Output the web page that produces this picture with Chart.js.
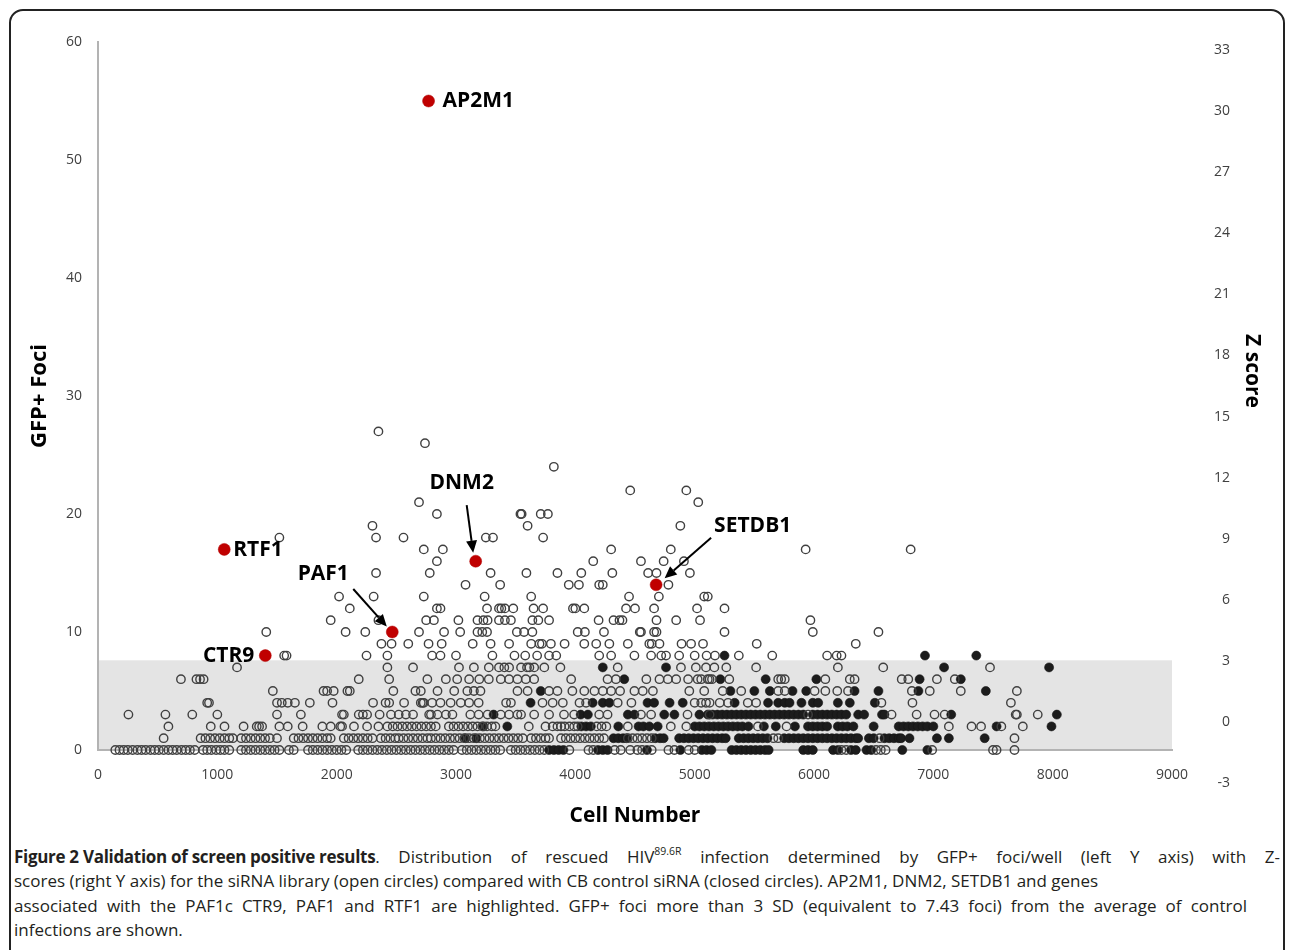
<!DOCTYPE html>
<html>
<head>
<meta charset="utf-8">
<script src="https://cdn.jsdelivr.net/npm/chart.js@4.4.1/dist/chart.umd.min.js"></script>
<style>
  html, body { margin:0; padding:0; background:#fff; }
  body { width:1290px; height:950px; position:relative; overflow:hidden; font-family:'Open Sans', sans-serif; }
  #frame { position:absolute; left:9px; top:9px; width:1276px; height:1000px; border:2px solid #222; border-radius:14px; box-sizing:border-box; }
  #chartWrap { position:absolute; left:0; top:0; width:1290px; height:840px; }
  #caption { position:absolute; left:14px; top:845px; font-size:17px; line-height:24.4px; color:#231f20; }
  #caption .ln { white-space:nowrap; }
  #caption .just { text-align:justify; text-align-last:justify; white-space:normal; }
  #caption b { font-weight:700; letter-spacing:-0.3px; display:inline-block; }
  #caption sup { font-size:10.5px; line-height:0; position:relative; top:-1px; }
</style>
</head>
<body>
<div id="frame"></div>
<div id="chartWrap"><canvas id="c" width="1290" height="840"></canvas></div>
<div id="caption">
  <div class="ln just" style="width:1266px"><b>Figure 2 Validation of screen positive results</b>. Distribution of rescued HIV<sup>89.6R</sup> infection determined by GFP+ foci/well (left Y axis) with Z-</div>
  <div class="ln">scores (right Y axis) for the siRNA library (open circles) compared with CB control siRNA (closed circles). AP2M1, DNM2, SETDB1 and genes</div>
  <div class="ln just" style="width:1233px">associated with the PAF1c CTR9, PAF1 and RTF1 are highlighted. GFP+ foci more than 3 SD (equivalent to 7.43 foci) from the average of control</div>
  <div class="ln">infections are shown.</div>
</div>
<script>
// ---------- axis ticks ----------
const cellTicks = [0,1000,2000,3000,4000,5000,6000,7000,8000,9000];
const fociTicks = [0,10,20,30,40,50,60];
const zTicks = [-3,0,3,6,9,12,15,18,21,24,27,30,33];
const bandFoci = 7.6;   // shaded region: 0 .. ~3 SD of controls

// ---------- siRNA library (open circles), by GFP+ foci level ----------
const libFoci0 = [145,180,215,250,290,330,365,400,440,475,510,550,590,625,660,700,735,770,810,880,915,950,990,1025,1060,1100,1200,1240,1280,1320,1360,1400,1440,1480,1520,1600,1640,1760,1800,1840,1880,1920,1960,2000,2040,2080,2180,2220,2260,2300,2340,2380,2420,2460,2500,2540,2580,2620,2660,2700,2740,2780,2820,2860,2900,2940,2980,3050,3090,3130,3170,3210,3250,3290,3330,3370,3460,3500,3540,3580,3620,3660,3700,3740,3950,4110,4150,4330,4380,4460,4520,4560,4640,4780,4830,4950,5000,6230,6270,6520,6560,6600,6990,7500,7530,7680];
const libFoci1 = [550,860,900,940,980,1020,1060,1100,1130,1200,1240,1280,1320,1360,1400,1440,1500,1640,1680,1720,1760,1800,1840,1880,1920,1950,2060,2100,2140,2180,2220,2260,2300,2370,2410,2450,2490,2520,2560,2600,2640,2680,2720,2760,2790,2830,2870,2910,2950,2990,3030,3070,3110,3150,3200,3240,3280,3320,3360,3400,3440,3480,3520,3560,3630,3670,3710,3750,3780,3880,3920,3960,4000,4040,4080,4120,4160,4200,4240,4440,4480,4520,4560,4600,4640,5660,5700,6550,7680];
const libFoci2 = [590,945,1060,1220,1330,1350,1375,1520,1590,1715,1880,1950,2030,2045,2145,2255,2350,2425,2470,2510,2550,2590,2630,2670,2710,2750,2790,2830,2940,2980,3020,3060,3100,3140,3180,3220,3260,3300,3330,3610,3750,3810,3850,3880,3910,3950,3990,4020,4180,4220,4260,4440,4800,4930,5530,5770,7130,7320,7400,7570,7750];
const libFoci3 = [255,565,790,1000,1500,1700,2045,2060,2185,2220,2255,2360,2455,2520,2580,2640,2775,2790,2845,2915,2970,3120,3190,3265,3375,3445,3515,3545,3655,3780,3905,3990,4200,4270,4550,4635,4940,5125,5950,6650,6860,7010,7095,7690,7700,7875];
const libFoci4 = [915,930,1500,1540,1590,1650,1775,1965,2305,2410,2440,2565,2705,2720,2730,2800,2870,2955,3040,3110,3190,3420,3460,3725,3810,3895,4035,4090,4355,4470,5000,5055,5095,5125,5210,5280,5445,5515,6565,6825,7650];
const libFoci5 = [1465,1890,1920,1975,2090,2110,2475,2660,2705,2845,2985,3095,3150,3205,3515,3600,3780,3850,3975,4075,4160,4230,4300,4375,4495,4565,4650,4955,5080,5235,5390,5700,5755,6005,6095,6195,6285,6820,6970,7230,7700];
const libFoci6 = [695,825,855,885,2185,2440,2760,2915,3010,3110,3195,3275,3375,3445,3515,3585,3655,3965,4270,4340,4595,4705,4775,4845,4945,5025,5055,5110,5125,5145,5290,5700,5725,5755,6095,6300,6340,6735,6790,7030,7180];
const libFoci7 = [1165,2425,2640,3025,3150,3275,3360,3405,3445,3545,3595,3615,3655,3740,3875,4355,4885,5010,5095,5165,5265,5515,6200,6580,7475];
const libFoci8 = [1560,1580,2250,2425,2800,2870,3000,3305,3490,3580,3680,3780,3840,4200,4300,4495,4635,4720,4760,4870,5000,5100,5170,5370,5650,6110,6190,6230];
const libFoci9 = [2375,2460,2600,2770,2880,3140,3290,3445,3630,3700,3720,3795,3910,4075,4175,4285,4440,4620,4640,4705,4890,4970,5070,5520,6350];
const libFoci10 = [1410,2075,2240,2690,2900,3035,3180,3220,3260,3510,3570,3640,4020,4080,4240,4540,4550,4660,4680,5250,5990,6540];
const libFoci11 = [1950,2350,2750,2815,3020,3180,3230,3265,3360,3410,3460,3640,3690,3780,4195,4320,4370,4395,4680,4845,5045,5970];
const libFoci12 = [2110,2840,2870,3260,3360,3380,3410,3480,3650,3730,3980,4000,4075,4425,4500,4660,5020,5250];
// sparse library hits above 12 foci: [cell number, GFP+ foci]
const libSparse = [[2020,13],[2310,13],[2730,13],[3240,13],[3630,13],[4450,13],[4700,13],[5080,13],[5110,13],
  [3080,14],[3370,14],[3945,14],[4030,14],[4200,14],[4230,14],[4780,14],
  [2330,15],[2780,15],[3290,15],[3590,15],[3850,15],[4050,15],[4310,15],[4610,15],[4680,15],[4960,15],
  [2840,16],[4150,16],[4550,16],[4740,16],[4910,16],
  [2730,17],[2890,17],[4300,17],[4800,17],[5930,17],[6810,17],
  [1520,18],[2330,18],[2560,18],[3250,18],[3310,18],[3730,18],
  [2300,19],[3600,19],[4880,19],
  [2840,20],[3540,20],[3550,20],[3710,20],[3770,20],
  [2690,21],[5030,21],[4460,22],[4930,22],[3820,24],[2740,26],[2350,27]];

// ---------- CB control siRNA (closed circles), by GFP+ foci level ----------
const ctrlFoci0 = [3780,3820,3860,3900,4190,4230,4270,4600,4880,5060,5100,5140,5310,5350,5390,5430,5470,5510,5550,5590,5620,5910,5950,5990,6160,6200,6310,6350,6440,6480,6740,6950];
const ctrlFoci1 = [3080,3170,4320,4360,4400,4430,4670,4710,4740,4870,4910,4950,4990,5030,5070,5110,5150,5190,5230,5260,5370,5410,5450,5490,5530,5570,5610,5750,5790,5830,5870,5910,5950,5990,6030,6070,6110,6150,6190,6230,6270,6310,6350,6370,6460,6500,6590,6630,6670,6710,6730,6800,7030,7130,7430];
const ctrlFoci2 = [3230,3430,4050,4090,4130,4360,4530,4570,4620,4690,5000,5040,5080,5120,5160,5200,5240,5280,5320,5360,5400,5450,5580,5680,5840,5950,5990,6030,6070,6110,6200,6240,6280,6330,6500,6710,6750,6790,6830,6870,6910,6950,7000,7530,7990];
const ctrlFoci3 = [3315,4045,4105,4440,4495,4745,4830,5040,5110,5150,5190,5230,5270,5310,5350,5390,5430,5470,5510,5550,5590,5630,5670,5710,5750,5790,5830,5870,5910,5990,6030,6070,6110,6150,6190,6230,6270,6370,6420,6570,6590,7150,8035];
const ctrlFoci4 = [3625,4145,4230,4285,4605,4660,4790,4900,5335,5615,5700,5755,5795,5895,5990,6035,6200,6300,6510];
const ctrlFoci5 = [3710,5300,5500,5630,5820,5935,6340,6540,6875,7440];
const ctrlFoci6 = [4410,5215,5595,6020,6885,7230];
const ctrlFoci7 = [4230,4760,7090,7970];
const ctrlFoci8 = [5250,6930,7360];

// ---------- highlighted genes ----------
const hiNames = ['AP2M1','DNM2','SETDB1','PAF1','RTF1','CTR9'];
const hiCells = [2770,3165,4677,2466,1058,1402];
const hiFoci  = [55,16,14,10,17,8];

// ---------- build points ----------
function fromRows(rows){ const p=[]; rows.forEach((arr,f)=>arr.forEach(c=>p.push({x:c,y:f}))); return p; }
const libPts = fromRows([libFoci0,libFoci1,libFoci2,libFoci3,libFoci4,libFoci5,libFoci6,libFoci7,libFoci8,libFoci9,libFoci10,libFoci11,libFoci12])
  .concat(libSparse.map(d=>({x:d[0],y:d[1]})));
const ctrlPts = fromRows([ctrlFoci0,ctrlFoci1,ctrlFoci2,ctrlFoci3,ctrlFoci4,ctrlFoci5,ctrlFoci6,ctrlFoci7,ctrlFoci8]);
const hiPts = hiCells.map((c,i)=>({x:c,y:hiFoci[i]}));

// label / arrow layout (pixel offsets relative to the highlighted point)
const hiLayout = [
  {dx:14, dy:0, align:'left'},
  {dx:-14, dy:-78, align:'center', arrow:[-9,-56,-2.5,-8.5]},
  {dx:58, dy:-59, align:'left', arrow:[55,-47,8.5,-6.5]},
  {dx:-69, dy:-58, align:'center', arrow:[-39,-43,-5.5,-5.5]},
  {dx:9, dy:1, align:'left'},
  {dx:-11, dy:0, align:'right'}
];

const FONT = "'Open Sans', sans-serif";
Chart.defaults.font.family = FONT;

const bandPlugin = {
  id:'band',
  beforeDraw(chart){
    const {ctx, scales:{x,y}} = chart;
    const x0=x.getPixelForValue(0), x1=x.getPixelForValue(9000);
    const yt=y.getPixelForValue(bandFoci), yb=y.getPixelForValue(0);
    ctx.save(); ctx.fillStyle='#e4e4e4'; ctx.fillRect(x0,yt,x1-x0,yb-yt); ctx.restore();
  }
};

const overlayPlugin = {
  id:'overlay',
  afterDatasetsDraw(chart){
    const {ctx, scales:{x,y,y2}, chartArea} = chart;
    ctx.save();
    ctx.font = "bold 21px " + FONT;
    ctx.fillStyle = '#000'; ctx.strokeStyle='#000';
    ctx.textBaseline = 'middle';
    hiPts.forEach((p,i)=>{
      const px=x.getPixelForValue(p.x), py=y.getPixelForValue(p.y);
      const L=hiLayout[i];
      ctx.textAlign=L.align;
      ctx.fillText(hiNames[i], px+L.dx, py+L.dy);
      if(L.arrow){
        const sx=px+L.arrow[0], sy=py+L.arrow[1], ex=px+L.arrow[2], ey=py+L.arrow[3];
        const ang=Math.atan2(ey-sy, ex-sx), len=12, hw=5.5;
        const bx=ex-len*Math.cos(ang), by=ey-len*Math.sin(ang);
        ctx.lineWidth=2;
        ctx.beginPath(); ctx.moveTo(sx,sy); ctx.lineTo(bx,by); ctx.stroke();
        ctx.beginPath(); ctx.moveTo(ex,ey);
        ctx.lineTo(bx+hw*Math.sin(ang), by-hw*Math.cos(ang));
        ctx.lineTo(bx-hw*Math.sin(ang), by+hw*Math.cos(ang));
        ctx.closePath(); ctx.fill();
      }
    });
    // right (Z score) axis labels
    ctx.font = "14px " + FONT;
    ctx.fillStyle = '#404040';
    ctx.textAlign='right'; ctx.textBaseline='middle';
    zTicks.forEach(v=>ctx.fillText(String(v), chartArea.right+58, y2.getPixelForValue(v)));
    // Z score title
    ctx.font = "bold 21px " + FONT;
    ctx.fillStyle='#000';
    ctx.translate(chartArea.right+80, 371);
    ctx.rotate(Math.PI/2);
    ctx.textAlign='center';
    ctx.fillText('Z score', 0, 0);
    ctx.restore();
  }
};

new Chart(document.getElementById('c'), {
  type:'scatter',
  data:{ datasets:[
    { label:'siRNA library', data:libPts, pointRadius:4.2, pointBorderWidth:1.4,
      pointBorderColor:'#404040', pointBackgroundColor:'rgba(0,0,0,0)', clip:false },
    { label:'CB control siRNA', data:ctrlPts, pointRadius:4.5, pointBorderWidth:0.6,
      pointBorderColor:'#141414', pointBackgroundColor:'#1c1c1c', clip:false },
    { label:'Highlighted', data:hiPts, pointRadius:6, pointBorderWidth:0.5,
      pointBorderColor:'#b00000', pointBackgroundColor:'#c00000', clip:false }
  ]},
  options:{
    responsive:false, animation:false, devicePixelRatio:1,
    layout:{ padding:{ left:0, right:0, top:42, bottom:0 } },
    plugins:{ legend:{display:false}, tooltip:{enabled:false} },
    scales:{
      x:{ type:'linear', min:0, max:9000,
        afterBuildTicks(s){ s.ticks = cellTicks.map(v=>({value:v})); },
        afterFit(s){ s.height = 90; },
        grid:{ display:false, drawTicks:false },
        border:{ display:true, color:'#b3b3b3', width:2 },
        ticks:{ color:'#404040', font:{size:14}, padding:17, maxRotation:0, autoSkip:false, callback:v=>String(v) },
        title:{ display:true, text:'Cell Number', color:'#000', font:{size:21, weight:'bold'}, padding:{top:0,bottom:11} }
      },
      y:{ type:'linear', position:'left', min:0, max:60,
        afterBuildTicks(s){ s.ticks = fociTicks.map(v=>({value:v})); },
        afterFit(s){ s.width = 98; },
        grid:{ display:false, drawTicks:false },
        border:{ display:true, color:'#b3b3b3', width:2 },
        ticks:{ color:'#404040', font:{size:14}, padding:16, autoSkip:false, callback:v=>String(v) },
        title:{ display:true, text:'GFP+ Foci', color:'#000', font:{size:22, weight:'bold'}, padding:{top:27,bottom:0} }
      },
      y2:{ type:'linear', position:'right', min:-1.373, max:33.39,
        afterFit(s){ s.width = 118; },
        grid:{ display:false, drawTicks:false },
        border:{ display:false },
        ticks:{ display:false }
      }
    }
  },
  plugins:[bandPlugin, overlayPlugin]
});
</script>
</body>
</html>
